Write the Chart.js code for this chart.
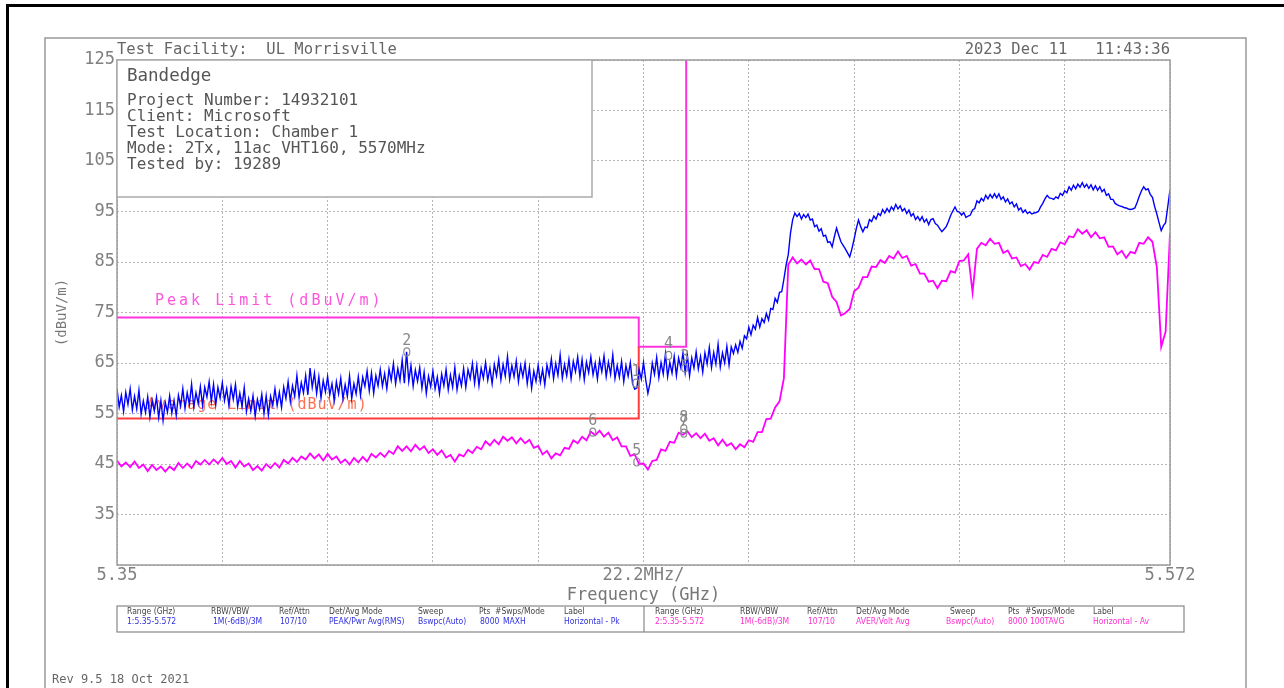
<!DOCTYPE html>
<html>
<head>
<meta charset="utf-8">
<script src="https://cdn.jsdelivr.net/npm/chart.js@4/dist/chart.umd.min.js"></script>
<style>
  html, body { margin: 0; padding: 0; background: #fff; }
  canvas { display: block; }
</style>
</head>
<body>
<canvas id="scan" width="1284" height="688"></canvas>
<script>
// sweep: 5.35 - 5.572 GHz (dBuV/m)
const sweepStart = 5.35;
const sweepStop = 5.572;

// trace 1, peak / max hold
const peakTrace = [
  59.9, 56.3, 58.6, 55.4, 59.2, 56.8, 59.9, 55.7, 58.4, 55.9,
  59.6, 54.9, 57.5, 55.2, 58.3, 54.3, 57.6, 55.5, 58.2, 54.2,
  57.6, 53.6, 57.2, 55.3, 58.5, 55.1, 57.6, 54.6, 58.6, 56.5,
  59.9, 56.0, 59.1, 56.8, 60.8, 56.3, 59.1, 57.0, 60.3, 56.6,
  60.2, 58.3, 61.3, 57.4, 60.8, 56.7, 60.2, 58.1, 61.1, 57.6,
  59.9, 56.6, 60.3, 57.8, 60.7, 56.4, 59.0, 56.4, 60.1, 55.4,
  57.9, 55.5, 58.5, 54.5, 57.8, 55.9, 58.8, 55.0, 58.5, 54.7,
  58.4, 56.6, 59.9, 56.6, 59.2, 56.2, 60.2, 58.0, 61.3, 57.4,
  60.5, 58.4, 62.5, 58.2, 61.1, 59.1, 62.5, 58.7, 64.0, 60.2,
  63.0, 59.0, 62.3, 58.1, 61.5, 59.3, 62.3, 58.7, 60.9, 57.6,
  61.3, 58.9, 62.0, 57.9, 60.7, 58.4, 62.4, 58.0, 60.9, 58.9,
  62.3, 58.6, 62.2, 60.4, 63.4, 59.5, 63.0, 59.0, 62.5, 60.5,
  63.7, 60.4, 62.9, 59.9, 63.8, 61.6, 64.9, 60.9, 63.9, 61.6,
  65.6, 61.0, 67.2, 61.4, 64.5, 60.4, 63.6, 61.4, 64.1, 60.0,
  63.2, 59.0, 62.4, 60.3, 63.4, 59.9, 62.2, 59.0, 62.8, 60.5,
  63.7, 59.7, 62.6, 60.2, 64.1, 59.7, 62.5, 60.5, 63.9, 60.2,
  63.7, 61.9, 64.9, 61.0, 64.5, 60.5, 64.0, 62.0, 65.1, 61.6,
  64.0, 60.9, 64.7, 62.5, 65.7, 61.7, 64.7, 62.4, 66.3, 61.8,
  64.5, 62.3, 65.4, 61.3, 64.5, 62.3, 65.0, 60.9, 64.1, 60.0,
  63.4, 61.4, 64.5, 61.2, 63.7, 60.7, 64.6, 62.5, 65.8, 61.9,
  64.9, 62.6, 66.6, 62.0, 64.7, 62.5, 65.7, 61.9, 65.3, 63.3,
  66.2, 62.3, 65.7, 61.7, 65.2, 63.1, 66.2, 62.7, 65.0, 61.8,
  65.6, 63.3, 66.4, 62.3, 65.2, 62.8, 66.6, 61.9, 64.5, 62.2,
  65.3, 61.3, 64.5, 62.4, 65.1, 60.9, 59.8, 60.1, 63.7, 61.8,
  65.1, 61.7, 59.0, 61.1, 65.0, 62.8, 66.1, 62.1, 65.1, 62.8,
  66.8, 62.3, 65.1, 63.0, 66.3, 62.5, 66.0, 64.1, 67.0, 63.1,
  66.5, 62.5, 66.0, 64.0, 67.2, 63.8, 66.3, 63.2, 67.0, 64.8,
  68.1, 64.1, 67.1, 64.8, 68.7, 64.2, 67.0, 65.0, 68.3, 64.6,
  68.2, 66.9, 68.6, 67.1, 69.3, 67.9, 70.4, 69.8, 72.1, 70.6,
  72.5, 71.7, 74.0, 72.1, 73.8, 73.0, 74.8, 73.5, 75.8, 75.6,
  77.8, 77.0, 79.0, 79.1, 81.6, 84.4, 86.5, 90.7, 93.4, 94.7,
  94.0, 94.6, 93.5, 94.4, 93.8, 94.5, 93.3, 93.5, 92.0, 92.3,
  91.1, 91.6, 90.1, 90.3, 88.9, 89.0, 88.0, 90.0, 91.7, 90.3,
  89.0, 88.3, 87.6, 86.8, 86.0, 87.6, 89.5, 91.6, 93.3, 92.0,
  91.0, 91.9, 91.8, 93.4, 93.0, 94.1, 93.5, 94.6, 94.2, 95.4,
  94.7, 95.6, 94.9, 95.9, 95.3, 96.4, 95.5, 96.1, 95.1, 95.6,
  94.6, 95.3, 94.1, 94.6, 93.4, 94.0, 93.2, 94.0, 92.9, 93.5,
  92.4, 93.4, 93.6, 92.6, 92.3, 91.6, 91.0, 91.5, 92.0, 93.0,
  94.2, 95.1, 95.9, 95.0, 94.9, 94.3, 94.8, 93.8, 94.1, 94.3,
  95.3, 95.6, 97.1, 96.7, 97.6, 97.1, 98.2, 97.5, 98.4, 97.7,
  98.5, 97.7, 98.5, 97.4, 97.9, 96.9, 97.5, 96.5, 96.9, 95.9,
  96.5, 95.3, 95.7, 94.8, 95.3, 94.6, 94.9, 94.5, 94.7, 94.8,
  95.0, 95.9, 96.6, 97.5, 98.2, 97.7, 97.6, 97.4, 97.9, 97.6,
  98.6, 98.2, 99.1, 98.7, 99.9, 99.2, 100.2, 99.5, 100.4, 99.8,
  100.7, 99.8, 100.4, 99.6, 100.3, 99.3, 100.1, 99.2, 99.9, 98.9,
  99.4, 98.2, 98.5, 97.4, 97.4, 96.6, 96.3, 96.1, 96.0, 95.8,
  95.7, 95.5, 95.4, 95.5, 95.7, 96.8, 98.0, 99.1, 99.9, 99.3,
  99.5, 98.4, 97.8, 96.0, 94.5, 92.8, 91.2, 92.2, 92.8, 96.0,
  99.3
];

// trace 2, average
const avgTrace = [
  45.7, 44.5, 45.3, 44.4, 45.5, 44.2, 44.9, 43.6, 44.8, 43.8,
  44.5, 43.5, 44.5, 43.8, 45.2, 44.2, 45.1, 44.2, 45.6, 44.9,
  45.8, 44.9, 45.9, 45.1, 46.2, 45.0, 45.6, 44.3, 45.6, 44.5,
  45.1, 43.8, 44.6, 43.7, 45.0, 44.2, 45.2, 44.3, 45.8, 45.1,
  46.2, 45.4, 46.5, 45.9, 47.1, 46.1, 46.9, 45.7, 47.0, 45.9,
  46.5, 45.2, 45.9, 44.9, 46.2, 45.3, 46.4, 45.5, 47.0, 46.3,
  47.2, 46.4, 47.6, 47.0, 48.5, 47.6, 48.5, 47.5, 48.8, 47.8,
  48.5, 47.2, 47.9, 46.8, 47.7, 46.3, 46.8, 45.5, 46.9, 46.5,
  47.8, 47.2, 48.4, 47.9, 49.5, 48.7, 49.8, 48.9, 50.4, 49.6,
  50.3, 49.1, 50.1, 49.1, 49.8, 48.2, 48.6, 46.9, 47.6, 46.1,
  47.1, 46.7, 48.2, 48.0, 49.7, 49.1, 50.4, 49.7, 51.4, 50.7,
  51.6, 50.4, 51.2, 49.7, 50.3, 48.5, 48.5, 46.6, 46.9, 45.0,
  45.1, 43.9, 45.6, 45.8, 47.9, 47.6, 49.4, 49.2, 51.2, 50.8,
  51.5, 50.3, 51.1, 50.1, 51.0, 49.6, 50.1, 48.7, 49.8, 48.6,
  49.1, 47.9, 48.9, 48.3, 49.7, 49.4, 51.3, 51.3, 53.9, 54.0,
  56.2, 57.4, 62.0, 84.5, 85.9, 84.7, 85.5, 84.5, 85.3, 83.6,
  83.6, 81.1, 80.8, 78.1, 77.1, 74.4, 74.9, 75.7, 79.2, 79.9,
  82.0, 82.0, 84.1, 84.0, 85.4, 84.8, 86.2, 85.7, 87.1, 85.8,
  86.2, 84.3, 84.6, 82.7, 82.7, 81.1, 81.3, 79.8, 81.3, 81.2,
  83.2, 82.9, 85.2, 85.3, 86.5, 79.0, 87.6, 88.8, 88.3, 89.6,
  88.6, 88.8, 86.8, 87.3, 85.7, 85.9, 84.2, 84.6, 83.5, 85.0,
  84.8, 86.4, 86.0, 87.6, 87.3, 88.9, 88.5, 90.1, 89.9, 91.5,
  90.6, 91.3, 89.9, 90.9, 89.7, 89.9, 88.0, 88.1, 86.5, 87.2,
  85.8, 87.0, 86.7, 88.8, 88.6, 89.9, 89.0, 84.0, 68.2, 71.2,
  90.7
];

// limit lines
const peakLimitFreq = [5.35, 5.46, 5.46, 5.47, 5.47];
const peakLimitLevel = [74, 74, 68.2, 68.2, 125];
const avgLimitFreq = [5.35, 5.46, 5.46];
const avgLimitLevel = [54, 54, 68.2];

// markers
const markerLabel = ['1', '2', '3', '4', '5', '6', '7', '8'];
const markerFreq = [5.4594, 5.4111, 5.4697, 5.4663, 5.4596, 5.4503, 5.4695, 5.4695];
const markerLevel = [61.0, 67.2, 64.0, 66.5, 45.4, 51.3, 51.1, 52.0];

// axis ticks
const xTickValues = [5.35, 5.3722, 5.3944, 5.4166, 5.4388, 5.461, 5.4832, 5.5054, 5.5276, 5.5498, 5.572];
const xTickLabels = ['5.35', '', '', '', '', '22.2MHz/', '', '', '', '', '5.572'];
const yTickValues = [25, 35, 45, 55, 65, 75, 85, 95, 105, 115, 125];
const yTickLabels = ['', '35', '45', '55', '65', '75', '85', '95', '105', '115', '125'];

// setup table under the plot
const tableHeaders = ['Range (GHz)', 'RBW/VBW', 'Ref/Attn', 'Det/Avg Mode', 'Sweep', 'Pts', '#Swps/Mode', 'Label'];
const tablePeakRow = ['1:5.35-5.572', '1M(-6dB)/3M', '107/10', 'PEAK/Pwr Avg(RMS)', 'Bswpc(Auto)', '8000', 'MAXH', 'Horizontal - Pk'];
const tableAvgRow = ['2:5.35-5.572', '1M(-6dB)/3M', '107/10', 'AVER/Volt Avg', 'Bswpc(Auto)', '8000', '100TAVG', 'Horizontal - Av'];

const infoLines = ['Project Number: 14932101', 'Client: Microsoft', 'Test Location: Chamber 1', 'Mode: 2Tx, 11ac VHT160, 5570MHz', 'Tested by: 19289'];

const MONO = '"DejaVu Sans Mono", "Liberation Mono", monospace';

function sweepPoints(values) {
    const step = (sweepStop - sweepStart) / (values.length - 1);
    return values.map((v, i) => ({ x: sweepStart + i * step, y: v }));
}

function toPoints(xs, ys) {
    return xs.map((x, i) => ({ x: x, y: ys[i] }));
}

const pagePlugin = {
    id: 'page',
    beforeDraw(chart) {
        const c = chart.ctx;
        c.save();
        c.fillStyle = '#fff';
        c.fillRect(0, 0, chart.width, chart.height);
        c.restore();
    },
    beforeDatasetsDraw(chart) {
        const c = chart.ctx;
        const xs = chart.scales.x, ys = chart.scales.y;
        c.save();
        c.font = '15px ' + MONO;
        c.textBaseline = 'middle';
        if ('letterSpacing' in c) c.letterSpacing = '1px';
        c.fillStyle = '#ff7050';
        c.fillText('Average Limit (dBuV/m)', xs.getPixelForValue(avgLimitFreq[0]) + 30, ys.getPixelForValue(avgLimitLevel[0]) - 13);
        c.restore();
    },
    afterDraw(chart) {
        const c = chart.ctx;
        const a = chart.chartArea;
        const xs = chart.scales.x, ys = chart.scales.y;
        c.save();

        // page frames
        c.strokeStyle = '#000';
        c.lineWidth = 3;
        c.beginPath();
        c.moveTo(7.5, 700); c.lineTo(7.5, 5.5); c.lineTo(1290, 5.5);
        c.stroke();
        c.strokeStyle = '#999';
        c.lineWidth = 1.5;
        c.strokeRect(45, 38, 1201, 700);

        // plot frame
        c.strokeStyle = '#9a9a9a';
        c.lineWidth = 1.5;
        c.strokeRect(a.left, a.top, a.right - a.left, a.bottom - a.top);

        // header line
        c.fillStyle = '#666';
        c.font = '15.5px ' + MONO;
        c.textBaseline = 'middle';
        c.textAlign = 'left';
        c.fillText('Test Facility:  UL Morrisville', a.left, 50);
        c.textAlign = 'right';
        c.fillText('2023 Dec 11   11:43:36', a.right, 50);

        // info box
        c.fillStyle = '#fff';
        c.fillRect(a.left, a.top, 475, 137);
        c.strokeStyle = '#aaa';
        c.lineWidth = 1.5;
        c.strokeRect(a.left, a.top, 475, 137);
        c.fillStyle = '#555';
        c.textAlign = 'left';
        c.font = '17.5px ' + MONO;
        c.fillText('Bandedge', a.left + 10, 76);
        c.font = '16px ' + MONO;
        infoLines.forEach((t, i) => c.fillText(t, a.left + 10, 101 + i * 16));

        // peak limit label
        c.font = '15px ' + MONO;
        if ('letterSpacing' in c) c.letterSpacing = '3px';
        c.fillStyle = '#ff55dd';
        c.fillText('Peak Limit (dBuV/m)', xs.getPixelForValue(peakLimitFreq[0]) + 38, ys.getPixelForValue(peakLimitLevel[0]) - 16);
        if ('letterSpacing' in c) c.letterSpacing = '0px';

        // markers
        c.strokeStyle = '#888';
        c.fillStyle = '#888';
        c.lineWidth = 1.2;
        c.font = '15px ' + MONO;
        c.textAlign = 'center';
        c.textBaseline = 'alphabetic';
        markerLabel.forEach((lbl, i) => {
            const px = xs.getPixelForValue(markerFreq[i]);
            const py = ys.getPixelForValue(markerLevel[i]);
            c.beginPath();
            c.ellipse(px, py, 3, 4, 0, 0, Math.PI * 2);
            c.stroke();
            c.fillText(lbl, px, py - 7);
        });

        // setup table
        const tTop = 606, tBot = 632, tLeft = a.left, tRight = 1184, tMid = 644;
        c.strokeStyle = '#888';
        c.lineWidth = 1.2;
        c.strokeRect(tLeft, tTop, tRight - tLeft, tBot - tTop);
        c.beginPath(); c.moveTo(tMid, tTop); c.lineTo(tMid, tBot); c.stroke();
        const headL = [127, 211, 279, 329, 418, 479, 495, 564];
        const headR = [655, 740, 807, 856, 950, 1008, 1025, 1093];
        const valL = [127, 213, 280, 329, 418, 480, 503, 564];
        const valR = [655, 740, 808, 856, 946, 1008, 1030, 1093];
        c.textAlign = 'left';
        c.textBaseline = 'middle';
        c.font = '8.5px "Liberation Sans Narrow", "DejaVu Sans Condensed", sans-serif';
        tableHeaders.forEach((h, i) => {
            c.fillStyle = '#444';
            c.fillText(h, headL[i], 612);
            c.fillText(h, headR[i], 612);
            c.fillStyle = '#3030e0';
            c.fillText(tablePeakRow[i], valL[i], 622);
            c.fillStyle = '#ff30d0';
            c.fillText(tableAvgRow[i], valR[i], 622);
        });

        // footer
        c.fillStyle = '#666';
        c.font = '12px ' + MONO;
        c.fillText('Rev 9.5 18 Oct 2021', 52, 680);
        c.restore();
    }
};

const ctx = document.getElementById('scan').getContext('2d');
const scanChart = new Chart(ctx, {
    type: 'line',
    data: {
        datasets: [
            {
                label: 'Average',
                data: sweepPoints(avgTrace),
                borderColor: '#ff00ff',
                borderWidth: 1.8,
                pointRadius: 0
            },
            {
                label: 'Peak',
                data: sweepPoints(peakTrace),
                borderColor: '#0000ff',
                borderWidth: 1.4,
                pointRadius: 0
            },
            {
                label: 'Average Limit',
                data: toPoints(avgLimitFreq, avgLimitLevel),
                borderColor: '#ff3b3b',
                borderWidth: 2,
                pointRadius: 0
            },
            {
                label: 'Peak Limit',
                data: toPoints(peakLimitFreq, peakLimitLevel),
                borderColor: '#ff33dd',
                borderWidth: 2,
                pointRadius: 0
            }
        ]
    },
    options: {
        responsive: false,
        animation: false,
        layout: { padding: { top: 60, right: 114, left: 0, bottom: 0 } },
        plugins: {
            legend: { display: false },
            tooltip: { enabled: false }
        },
        scales: {
            x: {
                type: 'linear',
                min: sweepStart,
                max: sweepStop,
                afterBuildTicks: (scale) => {
                    scale.ticks = xTickValues.map(v => ({ value: v }));
                },
                afterFit: (scale) => { scale.height = 123; },
                ticks: {
                    callback: (value, index) => xTickLabels[index],
                    autoSkip: false,
                    maxRotation: 0,
                    padding: 0,
                    color: '#808080',
                    font: { family: MONO, size: 17 }
                },
                grid: { color: '#b5b5b5', drawTicks: false, lineWidth: 1 },
                border: { display: false, dash: [2, 2] },
                title: {
                    display: true,
                    text: 'Frequency (GHz)',
                    color: '#777',
                    font: { family: MONO, size: 17 },
                    padding: { top: 4, bottom: 82 }
                }
            },
            y: {
                min: 25,
                max: 125,
                afterBuildTicks: (scale) => {
                    scale.ticks = yTickValues.map(v => ({ value: v }));
                },
                afterFit: (scale) => { scale.width = 117; },
                ticks: {
                    callback: (value, index) => yTickLabels[index],
                    padding: 2,
                    color: '#808080',
                    font: { family: MONO, size: 17 }
                },
                grid: { color: '#b5b5b5', drawTicks: false, lineWidth: 1 },
                border: { display: false, dash: [2, 2] },
                title: {
                    display: true,
                    text: '(dBuV/m)',
                    color: '#777',
                    font: { family: MONO, size: 14 },
                    padding: { top: 54, bottom: 0 }
                }
            }
        }
    },
    plugins: [pagePlugin]
});
</script>
</body>
</html>
